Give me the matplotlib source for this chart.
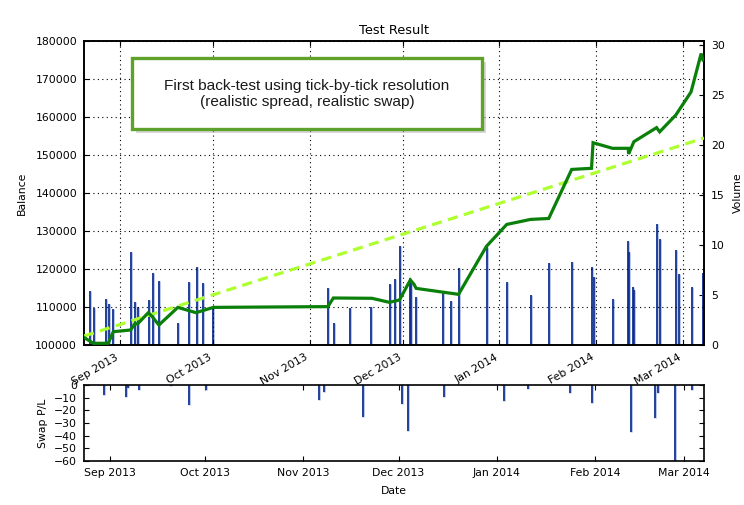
import matplotlib
matplotlib.use("Agg")
import matplotlib.pyplot as plt
import matplotlib.dates as mdates
from matplotlib.patches import Rectangle
import pandas as pd

# ---------------- data ----------------
balance_dates = ["2013-08-20 10:00", "2013-08-23 10:00", "2013-08-28 05:00", "2013-08-29 20:00",
                 "2013-09-04 10:00", "2013-09-05 20:00", "2013-09-06 14:00", "2013-09-10 02:00",
                 "2013-09-11 05:00", "2013-09-13 12:00", "2013-09-19 14:00", "2013-09-25 10:00",
                 "2013-10-01 00:00", "2013-11-06 20:00", "2013-11-08 14:00", "2013-11-21 00:00",
                 "2013-11-26 14:00", "2013-11-29 20:00", "2013-12-03 08:00", "2013-12-04 12:00",
                 "2013-12-05 05:00", "2013-12-18 20:00", "2013-12-27 20:00", "2014-01-03 08:00",
                 "2014-01-11 00:00", "2014-01-16 20:00", "2014-01-24 05:00", "2014-01-30 14:00",
                 "2014-01-31 02:00", "2014-02-06 08:00", "2014-02-11 10:00", "2014-02-11 12:00",
                 "2014-02-13 05:00", "2014-02-20 12:00", "2014-02-21 12:00", "2014-02-26 16:00",
                 "2014-03-03 14:00", "2014-03-06 20:00", "2014-03-07 10:00"]
balance_values = [102000, 100450, 100450, 103500,
                  103950, 105700, 105500, 108500,
                  107600, 105260, 109900, 108500,
                  109900, 110100, 112370, 112290,
                  111230, 111840, 117100, 116000,
                  114900, 113330, 126000, 131730,
                  133050, 133300, 146200, 146500,
                  153240, 151760, 151760, 150270,
                  153500, 157200, 156100, 160500,
                  166600, 176700, 175000]

trend_dates = ["2013-08-20 10:00", "2014-03-07 18:00"]
trend_values = [102370, 154470]

volume_dates = ["2013-08-22 10:00", "2013-08-23 16:00", "2013-08-27 12:00", "2013-08-28 14:00",
                "2013-08-29 20:00", "2013-09-04 12:00", "2013-09-05 20:00", "2013-09-06 16:00",
                "2013-09-10 05:00", "2013-09-11 16:00", "2013-09-13 12:00", "2013-09-19 16:00",
                "2013-09-23 08:00", "2013-09-25 16:00", "2013-09-27 14:00", "2013-10-01 00:00",
                "2013-11-06 20:00", "2013-11-08 16:00", "2013-11-13 20:00", "2013-11-20 20:00",
                "2013-11-26 20:00", "2013-11-28 10:00", "2013-11-30 00:00", "2013-12-03 08:00",
                "2013-12-03 14:00", "2013-12-05 00:00", "2013-12-13 20:00", "2013-12-16 10:00",
                "2013-12-18 20:00", "2013-12-27 20:00", "2014-01-03 12:00", "2014-01-11 00:00",
                "2014-01-17 00:00", "2014-01-24 10:00", "2014-01-30 14:00", "2014-01-31 08:00",
                "2014-02-06 10:00", "2014-02-11 08:00", "2014-02-11 14:00", "2014-02-13 00:00",
                "2014-02-13 08:00", "2014-02-20 16:00", "2014-02-21 12:00", "2014-02-26 20:00",
                "2014-02-27 16:00", "2014-03-03 20:00", "2014-03-07 12:00"]
volume_values = [5.4, 3.7, 4.6, 4.1,
                 3.6, 9.3, 4.3, 3.8,
                 4.5, 7.2, 6.4, 2.2,
                 6.3, 7.8, 6.2, 3.8,
                 5.7, 2.2, 3.7, 3.8,
                 6.1, 6.6, 9.9, 6.7,
                 6.3, 4.8, 5.2, 4.4,
                 7.7, 9.8, 6.3, 5.0,
                 8.2, 8.3, 7.8, 6.8,
                 4.6, 10.4, 9.3, 5.8,
                 5.5, 12.1, 10.6, 9.5,
                 7.1, 5.8, 7.2]

swap_dates = ["2013-08-30 05:00", "2013-09-05 22:00", "2013-09-06 18:00", "2013-09-10 06:00",
              "2013-09-20 02:00", "2013-09-26 00:00", "2013-10-01 05:00", "2013-11-06 00:00",
              "2013-11-07 14:00", "2013-11-19 22:00", "2013-12-02 05:00", "2013-12-03 22:00",
              "2013-12-15 10:00", "2014-01-03 05:00", "2014-01-10 22:00", "2014-01-24 00:00",
              "2014-01-31 02:00", "2014-02-12 05:00", "2014-02-19 22:00", "2014-02-20 16:00",
              "2014-02-26 05:00", "2014-03-03 14:00"]
swap_values = [-7.9, -9.2, -2.6, -4.0,
               -1.0, -15.8, -4.0, -12.1,
               -5.5, -25.3, -14.7, -36.6,
               -9.7, -13.0, -3.0, -6.0,
               -14.0, -37.0, -25.8, -6.6,
               -62.0, -4.0]

balance_ticks = [100000, 110000, 120000, 130000, 140000, 150000, 160000, 170000, 180000]
volume_ticks = [0, 5, 10, 15, 20, 25, 30]
swap_ticks = [0, -10, -20, -30, -40, -50, -60]

top_xlim = ("2013-08-20 10:00", "2014-03-07 18:00")
bottom_xlim = ("2013-08-23 19:00", "2014-03-07 07:00")

# ---------------- style ----------------
FS = 7.8
plt.rcParams.update({
    "font.family": ["DejaVu Sans"],
    "font.size": FS,
    "axes.linewidth": 1.2,
    "xtick.direction": "in",
    "ytick.direction": "in",
    "xtick.major.size": 3.6,
    "ytick.major.size": 3.6,
    "xtick.major.pad": 5,
    "ytick.major.pad": 5,
    "xtick.top": True,
    "ytick.right": True,
})

BAR = "#0a2a8e"
HALO = "#b4c2e6"

fig = plt.figure(figsize=(7.44, 5.05), dpi=100)
fig.patch.set_facecolor("white")

L, R = 84 / 744, 704 / 744
ax1 = fig.add_axes([L, 1 - 345 / 505, R - L, (345 - 41) / 505])
ax3 = fig.add_axes([L, 1 - 461 / 505, R - L, (461 - 385) / 505])

bd = pd.to_datetime(balance_dates)
td = pd.to_datetime(trend_dates)
vd = pd.to_datetime(volume_dates)
sd = pd.to_datetime(swap_dates)

# volume on twin axis, drawn beneath balance
ax2 = ax1.twinx()
ax2.vlines(vd, 0, volume_values, color=HALO, linewidth=2.0, zorder=2)
ax2.vlines(vd, 0, volume_values, color=BAR, linewidth=1.2, zorder=2.1)
ax2.set_ylim(0, 30.4)
ax2.set_yticks(volume_ticks)
ax2.set_ylabel("Volume", fontsize=FS, labelpad=6)
ax2.tick_params(axis="y", direction="in", length=3.6, labelsize=FS)

ax1.set_zorder(ax2.get_zorder() + 1)
ax1.patch.set_visible(False)
ax1.plot(td, trend_values, color="#adff2f", lw=2.3, linestyle=(0, (3.2, 2.0)), zorder=3)
ax1.plot(bd, balance_values, color="#0a800a", lw=2.3, zorder=4, solid_joinstyle="miter")
ax1.set_ylim(100000, 180000)
ax1.set_yticks(balance_ticks)
ax1.set_xlim(pd.to_datetime(top_xlim[0]), pd.to_datetime(top_xlim[1]))
ax1.xaxis.set_major_locator(mdates.MonthLocator())
ax1.xaxis.set_major_formatter(mdates.DateFormatter("%b %Y"))
for lab in ax1.get_xticklabels():
    lab.set_rotation(30)
    lab.set_ha("right")
ax1.tick_params(axis="y", right=False)
ax1.grid(True, color="black", linestyle=(0, (1, 3)), linewidth=0.8)
ax1.set_ylabel("Balance", fontsize=FS, labelpad=6)
ax1.set_title("Test Result", fontsize=9.3, pad=5)

# annotation box
shadow = Rectangle((0.0774 + 0.006, 0.7105 - 0.012), 0.5646, 0.2335, transform=ax1.transAxes,
                   facecolor="#b8b8b8", edgecolor="none", alpha=0.55, zorder=9)
ax1.add_patch(shadow)
box = Rectangle((0.0774, 0.7105), 0.5646, 0.2335, transform=ax1.transAxes,
                facecolor="white", edgecolor="#5fa22b", linewidth=2.4, zorder=10)
ax1.add_patch(box)
ax1.text(0.3597, 0.826, "First back-test using tick-by-tick resolution\n(realistic spread, realistic swap)",
         transform=ax1.transAxes, ha="center", va="center", multialignment="center",
         family=["Liberation Sans", "DejaVu Sans"], fontsize=11.1, color="#1a1a1a",
         linespacing=1.25, zorder=11)

# swap P/L
ax3.vlines(sd, 0, swap_values, color=HALO, linewidth=2.0, zorder=2)
ax3.vlines(sd, 0, swap_values, color=BAR, linewidth=1.2, zorder=2.1)
ax3.set_ylim(-60, 0)
ax3.set_yticks(swap_ticks)
ax3.set_yticklabels([str(v).replace("-", "\u2212") for v in swap_ticks])
ax3.set_xlim(pd.to_datetime(bottom_xlim[0]), pd.to_datetime(bottom_xlim[1]))
ax3.xaxis.set_major_locator(mdates.MonthLocator())
ax3.xaxis.set_major_formatter(mdates.DateFormatter("%b %Y"))
ax3.set_ylabel("Swap P/L", fontsize=FS, labelpad=4)
ax3.set_xlabel("Date", fontsize=FS, labelpad=6)

fig.savefig("out.png", dpi=100, facecolor="white")
